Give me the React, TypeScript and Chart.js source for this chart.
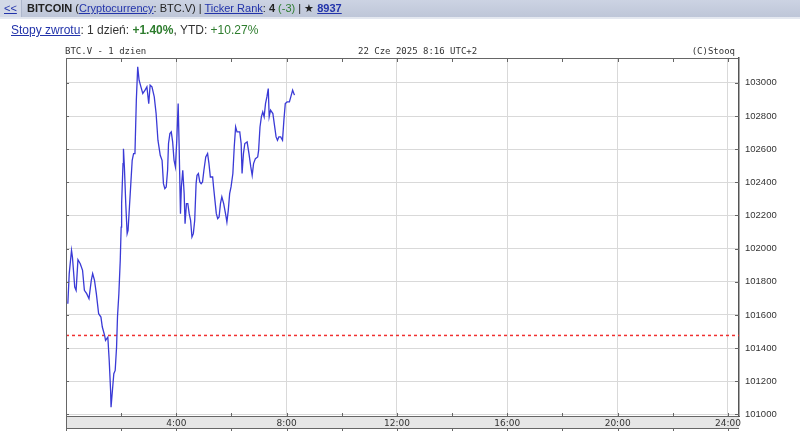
import React, { useEffect, useRef } from "react";
import { Chart, registerables } from "chart.js";

Chart.register(...registerables);

// minutes after midnight (UTC+2)
const minutes = [
  4, 7, 12, 14, 19, 22, 26, 31, 36, 40, 45, 50, 55, 58, 62, 66, 71, 76, 79, 84,
  86, 91, 94, 97, 98, 101, 104, 107, 110, 112, 115, 118, 120, 121, 124, 125, 127, 130, 133, 135,
  138, 141, 144, 147, 150, 153, 156, 159, 163, 167, 172, 176, 180, 183, 187, 192, 196, 200, 205, 209,
  212, 215, 218, 221, 223, 226, 229, 232, 235, 238, 241, 244, 246, 249, 251, 254, 257, 259, 262, 265,
  268, 271, 274, 277, 280, 283, 285, 288, 291, 294, 297, 300, 304, 308, 311, 314, 319, 321, 324, 327,
  330, 333, 336, 339, 343, 347, 350, 353, 356, 359, 363, 366, 369, 372, 378, 381, 383, 386, 389, 394,
  398, 402, 405, 408, 412, 417, 419, 422, 425, 428, 431, 434, 437, 440, 442, 445, 450, 454, 457, 460,
  463, 467, 471, 474, 477, 481, 486, 489, 493, 497,
];

const prices = [
  101667, 101849, 101990, 101949, 101768, 101748, 101933, 101909, 101869, 101748,
  101728, 101698, 101808, 101849, 101808, 101728, 101607, 101587, 101527, 101476,
  101446, 101466, 101325, 101144, 101043, 101144, 101245, 101265, 101406, 101587,
  101728, 101929, 102130, 102271, 102513, 102603, 102493, 102271, 102090, 102110,
  102251, 102392, 102533, 102573, 102573, 102895, 103097, 103016, 102976, 102936,
  102956, 102976, 102875, 102986, 102976, 102915, 102815, 102654, 102563, 102533,
  102392, 102362, 102372, 102473, 102634, 102694, 102704, 102644, 102533, 102493,
  102654, 102875, 102634, 102211, 102372, 102473, 102332, 102150, 102271, 102271,
  102211, 102171, 102070, 102090, 102171, 102392, 102442, 102453, 102402, 102392,
  102402, 102473, 102553, 102573, 102513, 102432, 102432, 102372, 102291, 102211,
  102181, 102191, 102271, 102312, 102271, 102211, 102160, 102231, 102332, 102372,
  102453, 102614, 102734, 102704, 102704, 102634, 102453, 102573, 102634, 102644,
  102573, 102493, 102442, 102513, 102543, 102553, 102593, 102734, 102795, 102825,
  102795, 102875, 102915, 102966, 102795, 102835, 102815, 102734, 102674, 102654,
  102674, 102674, 102654, 102775, 102875, 102885, 102885, 102915, 102956, 102926,
];

const prevClose = 101476;

const xTickMinutes = [0, 120, 240, 360, 480, 600, 720, 840, 960, 1080, 1200, 1320, 1440];
const xTickLabels = ["", "", "4:00", "", "8:00", "", "12:00", "", "16:00", "", "20:00", "", "24:00"];
const yTickValues = [101000, 101200, 101400, 101600, 101800, 102000, 102200, 102400, 102600, 102800, 103000];
const yTickLabels = ["101000", "101200", "101400", "101600", "101800", "102000", "102200", "102400", "102600", "102800", "103000"];

const X_MIN = 0;
const X_MAX = 1464;
const Y_MIN = 100990;
const Y_MAX = 103150;

const framePlugin = {
  id: "stooqFrame",
  beforeDraw(chart: any) {
    const { ctx, chartArea } = chart;
    const { left, right, bottom } = chartArea;
    ctx.save();
    ctx.fillStyle = "#ffffff";
    ctx.fillRect(0, 0, chart.width, chart.height);
    ctx.fillStyle = "#e6e6e6";
    ctx.fillRect(left, bottom, right - left, 12);
    ctx.restore();
  },
  afterDraw(chart: any) {
    const { ctx, chartArea } = chart;
    const { left, right, top, bottom } = chartArea;
    const xs = chart.scales.x;
    const ys = chart.scales.y;
    ctx.save();
    ctx.strokeStyle = "#666666";
    ctx.lineWidth = 1;
    ctx.beginPath();
    ctx.moveTo(left, top + 0.5);
    ctx.lineTo(right, top + 0.5);
    ctx.moveTo(left + 0.5, top);
    ctx.lineTo(left + 0.5, chart.height);
    ctx.moveTo(left, bottom + 12.5);
    ctx.lineTo(right, bottom + 12.5);
    for (const v of xTickMinutes) {
      if (v === 0) continue;
      const px = Math.round(xs.getPixelForValue(v)) + 0.5;
      ctx.moveTo(px, top);
      ctx.lineTo(px, top + 4);
      ctx.moveTo(px, bottom);
      ctx.lineTo(px, bottom - 3);
      ctx.moveTo(px, bottom + 12);
      ctx.lineTo(px, bottom + 15);
    }
    for (const v of yTickValues) {
      const py = Math.round(ys.getPixelForValue(v)) + 0.5;
      ctx.moveTo(right, py);
      ctx.lineTo(right - 4, py);
      ctx.moveTo(left, py);
      ctx.lineTo(left + 3, py);
    }
    ctx.stroke();
    ctx.restore();
  },
};

function StooqChart() {
  const ref = useRef<HTMLCanvasElement | null>(null);
  useEffect(() => {
    const canvas = ref.current;
    if (!canvas) return;
    const lineData = minutes.map((m, i) => ({ x: m, y: prices[i] }));
    const refData = [
      { x: X_MIN, y: prevClose },
      { x: X_MAX, y: prevClose },
    ];
    const chart = new Chart(canvas, {
      type: "line",
      data: {
        datasets: [
          {
            label: "BTC.V",
            data: lineData,
            borderColor: "#3a3ad6",
            borderWidth: 1.3,
            pointRadius: 0,
            tension: 0,
            fill: false,
          },
          {
            label: "prev",
            data: refData,
            borderColor: "#f03030",
            borderWidth: 1.5,
            borderDash: [3, 3],
            pointRadius: 0,
            fill: false,
          },
        ],
      },
      plugins: [framePlugin],
      options: {
        animation: false,
        responsive: false,
        devicePixelRatio: 1,
        layout: { padding: { top: 58, left: 66, right: 0, bottom: 0 } },
        plugins: {
          legend: { display: false },
          tooltip: { enabled: false },
          title: { display: false },
        },
        scales: {
          x: {
            type: "linear",
            min: X_MIN,
            max: X_MAX,
            afterBuildTicks: (s: any) => {
              s.ticks = xTickMinutes.map((v) => ({ value: v }));
            },
            afterFit: (s: any) => {
              s.height = 15;
            },
            ticks: {
              autoSkip: false,
              maxRotation: 0,
              padding: 2,
              color: "#333333",
              font: { family: "DejaVu Sans", size: 9 },
              callback: (_v: any, i: number) => xTickLabels[i],
            },
            grid: {
              drawTicks: false,
              color: (c: any) =>
                c.tick && c.tick.value % 240 === 0 && c.tick.value > 0 ? "#d9d9d9" : "rgba(0,0,0,0)",
            },
            border: { color: "#666666", width: 1 },
          },
          y: {
            type: "linear",
            position: "right",
            min: Y_MIN,
            max: Y_MAX,
            afterBuildTicks: (s: any) => {
              s.ticks = yTickValues.map((v) => ({ value: v }));
            },
            afterFit: (s: any) => {
              s.width = 61;
            },
            ticks: {
              padding: 6,
              color: "#333333",
              font: { family: "Liberation Sans", size: 9.5 },
              callback: (_v: any, i: number) => yTickLabels[i],
            },
            grid: { drawTicks: false, color: "#d9d9d9" },
            border: { color: "#555555", width: 1.5 },
          },
        },
      },
    });
    return () => chart.destroy();
  }, []);
  return (
    <canvas
      ref={ref}
      width={800}
      height={431}
      style={{ position: "absolute", left: 0, top: 0, width: 800, height: 431, display: "block" }}
    />
  );
}

const linkStyle: React.CSSProperties = { color: "#2233aa", textDecoration: "underline" };
const monoStyle: React.CSSProperties = {
  position: "absolute",
  top: 46,
  fontFamily: "DejaVu Sans Mono, monospace",
  fontSize: 9,
  lineHeight: "10px",
  color: "#333",
  whiteSpace: "nowrap",
};

export default function App() {
  return (
    <div
      style={{
        position: "absolute",
        left: 0,
        top: 0,
        width: 800,
        height: 431,
        overflow: "hidden",
        background: "#ffffff",
      }}
    >
      <StooqChart />
      <div
        style={{
          position: "absolute",
          left: 0,
          top: 0,
          width: 800,
          height: 17,
          background: "linear-gradient(#ccd3e3, #bec6d8)",
          borderBottom: "2px solid #e4e8f0",
          fontFamily: "Liberation Sans, Arial, sans-serif",
          fontSize: 11,
          lineHeight: "17px",
          color: "#222",
          whiteSpace: "nowrap",
        }}
      >
        <span
          style={{
            position: "absolute",
            left: 0,
            top: 0,
            width: 21,
            height: 17,
            background: "#d3d9e7",
            borderRight: "1px solid #aeb7cc",
          }}
        />
        <span style={{ position: "absolute", left: 4, top: 0, ...linkStyle }}>&lt;&lt;</span>
        <span style={{ position: "absolute", left: 27, top: 0 }}>
          <b>BITCOIN</b> (<span style={linkStyle}>Cryptocurrency</span>: BTC.V) |{" "}
          <span style={linkStyle}>Ticker Rank</span>: <b>4</b>{" "}
          <span style={{ color: "#2f7d32" }}>(-3)</span> | ★{" "}
          <b style={linkStyle}>8937</b>
        </span>
      </div>
      <div
        style={{
          position: "absolute",
          left: 11,
          top: 22,
          fontFamily: "Liberation Sans, Arial, sans-serif",
          fontSize: 12,
          lineHeight: "16px",
          color: "#333",
          whiteSpace: "nowrap",
        }}
      >
        <span style={linkStyle}>Stopy zwrotu</span>: 1 dzień:{" "}
        <b style={{ color: "#2e7d2e" }}>+1.40%</b>, YTD:{" "}
        <span style={{ color: "#2e7d2e" }}>+10.27%</span>
      </div>
      <div style={{ ...monoStyle, left: 65 }}>BTC.V - 1 dzien</div>
      <div style={{ ...monoStyle, left: 358 }}>22 Cze 2025 8:16 UTC+2</div>
      <div style={{ ...monoStyle, right: 65 }}>(C)Stooq</div>
    </div>
  );
}
